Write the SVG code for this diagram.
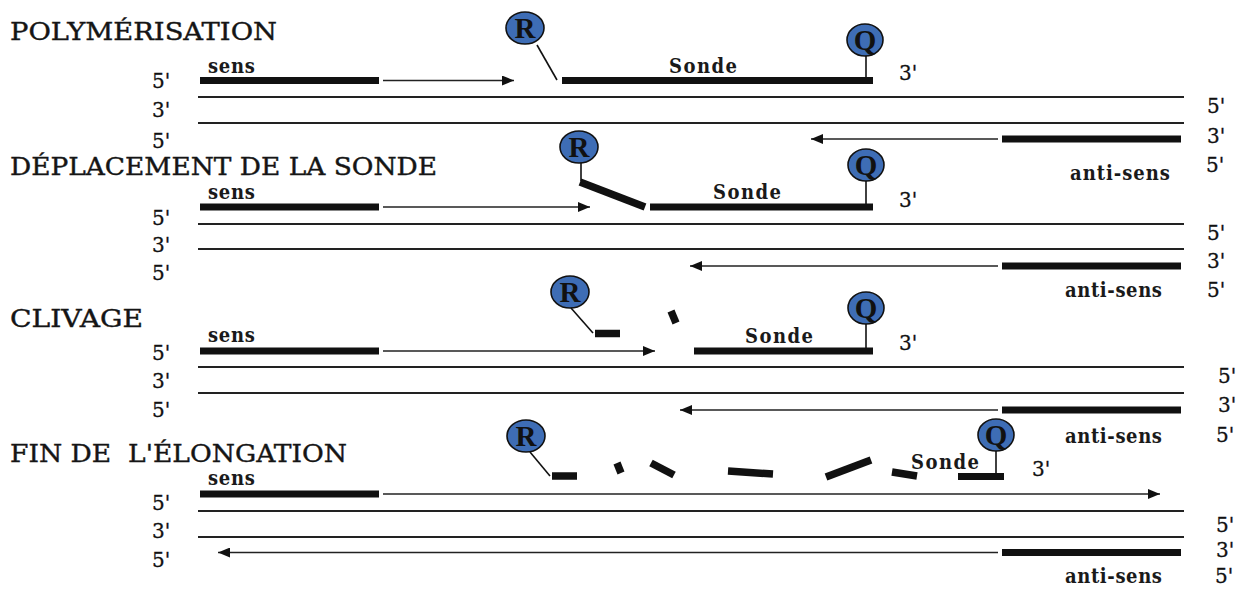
<svg xmlns="http://www.w3.org/2000/svg" width="1244" height="589" viewBox="0 0 1244 589">
<style>
.title{font-family:"DejaVu Serif","Liberation Serif",serif;font-size:25px;fill:#151515;stroke:#151515;stroke-width:0.4;white-space:pre}
.lbl{font-family:"DejaVu Serif Condensed","DejaVu Serif","Liberation Serif",serif;font-weight:bold;font-size:20px;fill:#1a1a1a}
.end{font-family:"DejaVu Serif","Liberation Serif",serif;font-size:20px;fill:#111;stroke:#111;stroke-width:0.3}
.thick{stroke:#111;stroke-width:7;fill:none}
.frag{stroke:#111;stroke-width:7.5;fill:none}
.tmpl{stroke:#222;stroke-width:2;fill:none}
.arr{stroke:#222;stroke-width:1.6;fill:none;marker-end:url(#ah)}
.stem{stroke:#111;stroke-width:1.6;fill:none}
.dye{fill:#3e6db5;stroke:#111;stroke-width:1.6}
.dl{font-family:"Liberation Serif","DejaVu Serif",serif;font-weight:bold;font-size:29px;fill:#111;text-anchor:middle}
</style>
<defs>
<marker id="ah" viewBox="0 0 12 10" refX="12" refY="5" markerWidth="12" markerHeight="10" orient="auto" markerUnits="userSpaceOnUse">
<path d="M0,0 L12,5 L0,10 z" fill="#111"/>
</marker>
</defs>

<!-- Section 1 -->
<g id="s1">
<text class="title" x="10" y="40" textLength="267" lengthAdjust="spacingAndGlyphs">POLYMÉRISATION</text>
<text class="lbl" x="208" y="73" textLength="47">sens</text>
<text class="lbl" x="669" y="73" textLength="68">Sonde</text>
<text class="end" x="899" y="80">3'</text>
<text class="end" x="152" y="88">5'</text>
<text class="end" x="152" y="117">3'</text>
<text class="end" x="152" y="148">5'</text>
<text class="end" x="1207" y="113">5'</text>
<text class="end" x="1207" y="143">3'</text>
<text class="lbl" x="1070" y="180" textLength="100">anti-sens</text>
<text class="end" x="1206" y="172">5'</text>
<g id="s1-sens"><line class="thick" x1="200" y1="80.5" x2="379" y2="80.5"/></g>
<g id="s1-sonde"><line class="thick" x1="562" y1="80.5" x2="873" y2="80.5"/></g>
<g id="s1-template"><line class="tmpl" x1="198" y1="97" x2="1184" y2="97"/><line class="tmpl" x1="198" y1="123" x2="1184" y2="123"/></g>
<g id="s1-antisens"><line class="thick" x1="1002" y1="139" x2="1181" y2="139"/></g>
<g id="s1-R"><ellipse class="dye" cx="525" cy="28" rx="19" ry="16"/><text class="dl" x="525" y="38">R</text></g>
<g id="s1-Q"><ellipse class="dye" cx="865" cy="40" rx="18" ry="16"/><text class="dl" x="865" y="50">Q</text></g>
</g>

<!-- Section 2 -->
<g id="s2">
<text class="title" x="10" y="175" textLength="427" lengthAdjust="spacingAndGlyphs">DÉPLACEMENT DE LA SONDE</text>
<text class="lbl" x="208" y="199" textLength="47">sens</text>
<text class="lbl" x="713" y="199" textLength="68">Sonde</text>
<text class="end" x="899" y="207">3'</text>
<text class="end" x="152" y="225">5'</text>
<text class="end" x="152" y="252">3'</text>
<text class="end" x="152" y="280">5'</text>
<text class="end" x="1207" y="240">5'</text>
<text class="end" x="1207" y="268">3'</text>
<text class="lbl" x="1065" y="297" textLength="97">anti-sens</text>
<text class="end" x="1207" y="297">5'</text>
<g id="s2-sens"><line class="thick" x1="200" y1="207" x2="379" y2="207"/></g>
<g id="s2-sonde"><line class="thick" x1="650" y1="207" x2="873" y2="207"/><line class="frag" x1="580" y1="182" x2="645" y2="207"/></g>
<g id="s2-template"><line class="tmpl" x1="198" y1="224" x2="1184" y2="224"/><line class="tmpl" x1="198" y1="249" x2="1184" y2="249"/></g>
<g id="s2-antisens"><line class="thick" x1="1002" y1="266" x2="1181" y2="266"/></g>
<g id="s2-R"><ellipse class="dye" cx="579" cy="147" rx="19" ry="16"/><text class="dl" x="579" y="157">R</text></g>
<g id="s2-Q"><ellipse class="dye" cx="866" cy="165" rx="18" ry="16"/><text class="dl" x="866" y="175">Q</text></g>
</g>

<!-- Section 3 -->
<g id="s3">
<text class="title" x="10" y="327" textLength="133" lengthAdjust="spacingAndGlyphs">CLIVAGE</text>
<text class="lbl" x="208" y="342" textLength="47">sens</text>
<text class="lbl" x="745" y="343" textLength="68">Sonde</text>
<text class="end" x="899" y="350">3'</text>
<text class="end" x="152" y="360">5'</text>
<text class="end" x="152" y="388">3'</text>
<text class="end" x="152" y="417">5'</text>
<text class="end" x="1218" y="383">5'</text>
<text class="end" x="1218" y="412">3'</text>
<text class="lbl" x="1065" y="443" textLength="97">anti-sens</text>
<text class="end" x="1216" y="442">5'</text>
<g id="s3-sens"><line class="thick" x1="200" y1="351" x2="379" y2="351"/></g>
<g id="s3-sonde"><line class="thick" x1="694" y1="351" x2="873" y2="351"/><line class="frag" x1="595" y1="333.5" x2="620" y2="333.5"/><line class="frag" x1="671" y1="311" x2="676" y2="323"/></g>
<g id="s3-template"><line class="tmpl" x1="198" y1="367" x2="1184" y2="367"/><line class="tmpl" x1="198" y1="393" x2="1184" y2="393"/></g>
<g id="s3-antisens"><line class="thick" x1="1002" y1="410" x2="1181" y2="410"/></g>
<g id="s3-R"><ellipse class="dye" cx="570" cy="292" rx="19" ry="16"/><text class="dl" x="570" y="302">R</text></g>
<g id="s3-Q"><ellipse class="dye" cx="866" cy="308" rx="18" ry="16"/><text class="dl" x="866" y="318">Q</text></g>
</g>

<!-- Section 4 -->
<g id="s4">
<text class="title" x="10" y="462" textLength="337" lengthAdjust="spacingAndGlyphs">FIN DE  L'ÉLONGATION</text>
<text class="lbl" x="208" y="485" textLength="47">sens</text>
<text class="lbl" x="911" y="469" textLength="68">Sonde</text>
<text class="end" x="1032" y="476">3'</text>
<text class="end" x="152" y="510">5'</text>
<text class="end" x="152" y="538">3'</text>
<text class="end" x="152" y="567">5'</text>
<text class="end" x="1216" y="532">5'</text>
<text class="end" x="1216" y="557">3'</text>
<text class="lbl" x="1065" y="583" textLength="97">anti-sens</text>
<text class="end" x="1215" y="583">5'</text>
<g id="s4-sens"><line class="thick" x1="200" y1="494" x2="379" y2="494"/></g>
<g id="s4-fragments">
<line class="frag" x1="552" y1="476" x2="577" y2="476"/>
<line class="frag" x1="617" y1="463" x2="621" y2="473"/>
<line class="frag" x1="651" y1="463" x2="674" y2="475"/>
<line class="frag" x1="728" y1="471" x2="773" y2="474"/>
<line class="frag" x1="826" y1="477" x2="871" y2="460"/>
<line class="frag" x1="892" y1="472" x2="917" y2="476"/>
<line class="thick" x1="958" y1="476.5" x2="1004" y2="476.5"/>
</g>
<g id="s4-template"><line class="tmpl" x1="198" y1="511" x2="1184" y2="511"/><line class="tmpl" x1="198" y1="537" x2="1184" y2="537"/></g>
<g id="s4-antisens"><line class="thick" x1="1002" y1="552.5" x2="1181" y2="552.5"/></g>
<g id="s4-R"><ellipse class="dye" cx="526" cy="436" rx="19" ry="16"/><text class="dl" x="526" y="446">R</text></g>
<g id="s4-Q"><ellipse class="dye" cx="996" cy="435" rx="18" ry="16"/><text class="dl" x="996" y="445">Q</text></g>
</g>

<!-- Connectors: extension arrows and dye linkers -->
<g id="connectors">
<line class="arr" x1="383" y1="80.5" x2="514" y2="80.5"/>
<line class="arr" x1="998" y1="139" x2="811" y2="139"/>
<line class="stem" x1="537" y1="45" x2="557" y2="80"/>
<line class="stem" x1="866" y1="56" x2="866" y2="77"/>

<line class="arr" x1="383" y1="207" x2="590" y2="207"/>
<line class="arr" x1="998" y1="266" x2="690" y2="266"/>
<line class="stem" x1="581" y1="163" x2="581" y2="181"/>
<line class="stem" x1="866" y1="181" x2="866" y2="204"/>

<line class="arr" x1="383" y1="351" x2="655" y2="351"/>
<line class="arr" x1="998" y1="410" x2="680" y2="410"/>
<line class="stem" x1="571" y1="308" x2="593" y2="333"/>
<line class="stem" x1="866" y1="324" x2="866" y2="348"/>

<line class="arr" x1="383" y1="494" x2="1160" y2="494"/>
<line class="arr" x1="998" y1="552.5" x2="218" y2="552.5"/>
<line class="stem" x1="530" y1="452" x2="550" y2="476"/>
<line class="stem" x1="996" y1="451" x2="996" y2="474"/>
</g>
</svg>
